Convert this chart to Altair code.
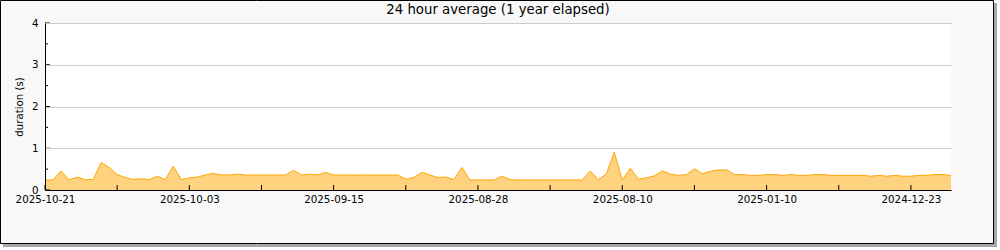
import altair as alt
import pandas as pd

# ---- data (one value per day, newest first) ----
durations = [
    0.24, 0.24, 0.455, 0.24, 0.31, 0.25, 0.25, 0.66, 0.54, 0.37,
    0.30, 0.25, 0.27, 0.25, 0.33, 0.25, 0.57, 0.25, 0.29, 0.31,
    0.36, 0.40, 0.36, 0.36, 0.38, 0.36, 0.36, 0.36, 0.36, 0.36,
    0.36, 0.47, 0.36, 0.38, 0.36, 0.42, 0.36,
    0.36, 0.36, 0.36, 0.36, 0.36, 0.36, 0.36, 0.36,
    0.26, 0.30, 0.42, 0.36, 0.30, 0.31, 0.25, 0.54, 0.24, 0.24,
    0.24, 0.24, 0.33, 0.25,
    0.24, 0.24, 0.24, 0.24, 0.24, 0.24, 0.24, 0.24, 0.24,
    0.455, 0.25, 0.38, 0.90, 0.24, 0.52, 0.26, 0.29, 0.34, 0.46,
    0.38, 0.35, 0.37, 0.51, 0.39, 0.45, 0.48, 0.48, 0.37, 0.37,
    0.35, 0.35, 0.37, 0.37, 0.35, 0.37, 0.35, 0.35, 0.37, 0.37,
    0.35, 0.35, 0.35, 0.35, 0.35, 0.33, 0.35, 0.33, 0.35, 0.33,
    0.33, 0.35, 0.35, 0.37, 0.37, 0.35,
]
tick_labels = ["2025-10-21", "2025-10-03", "2025-09-15", "2025-08-28",
               "2025-08-10", "2025-01-10", "2024-12-23"]
label_positions = [0, 18, 36, 54, 72, 90, 108]
x_tick_positions = [0, 9, 18, 27, 36, 45, 54, 63, 72, 81, 90, 99, 108]
y_major_ticks = [0, 1, 2, 3, 4]
y_minor_ticks = [0.5, 1.5, 2.5, 3.5]

W, H = 906, 167
N = len(durations)

df = pd.DataFrame({"idx": list(range(N)), "duration": durations})
one = pd.DataFrame({"a": [0]})

label_expr = "[" + ",".join("'%s'" % s for s in tick_labels) + "][datum.value / 18]"

xscale = alt.Scale(domain=[0, N - 1], nice=False, zero=False)
yscale = alt.Scale(domain=[0, 4], nice=False)

shadow = alt.Chart(one).mark_rect(fill="#a8a8a8").encode(
    x=alt.value(-42), x2=alt.value(952), y=alt.value(-20), y2=alt.value(224))
frame = alt.Chart(one).mark_rect(fill="#f8f8f8", stroke="#000000", strokeWidth=1).encode(
    x=alt.value(-44.5), x2=alt.value(948.5), y=alt.value(-22.5), y2=alt.value(220.5))
plotbg = alt.Chart(one).mark_rect(fill="#ffffff").encode(
    x=alt.value(0), x2=alt.value(W), y=alt.value(0), y2=alt.value(H))

area = alt.Chart(df).mark_area(
    color="#ffd27f", opacity=1, fillOpacity=1,
    line={"color": "#ffa500", "strokeWidth": 1}, interpolate="linear"
).encode(
    x=alt.X("idx:Q", scale=xscale,
            axis=alt.Axis(values=label_positions, labelExpr=label_expr, title=None,
                          grid=False, ticks=False, labelFlush=False, labelOverlap=False,
                          labelPadding=4, labelFont="DejaVu Sans", labelFontSize=10.3,
                          labelColor="#000000", domainColor="#000000", domainWidth=1,
                          zindex=1)),
    y=alt.Y("duration:Q", scale=yscale,
            axis=alt.Axis(values=y_major_ticks, title="duration (s)", grid=True,
                          gridColor="#cccccc", gridWidth=1, ticks=False,
                          labelPadding=7, labelFont="DejaVu Sans", labelFontSize=10.3,
                          labelColor="#000000", domainColor="#000000", domainWidth=1,
                          titleFont="DejaVu Sans", titleFontSize=10.2,
                          titleFontWeight="normal", titleColor="#000000",
                          titleX=-26, titleBaseline="middle", titlePadding=0,
                          zindex=1)),
)

xt = alt.Chart(pd.DataFrame({"t": x_tick_positions})).mark_rule(color="#000000").encode(
    x=alt.X("t:Q", scale=xscale), y=alt.value(H), y2=alt.value(H - 5))
ymaj = alt.Chart(pd.DataFrame({"t": y_major_ticks})).mark_rule(color="#000000").encode(
    y=alt.Y("t:Q", scale=yscale), x=alt.value(0), x2=alt.value(5))
ymin = alt.Chart(pd.DataFrame({"t": y_minor_ticks})).mark_rule(color="#000000").encode(
    y=alt.Y("t:Q", scale=yscale), x=alt.value(0), x2=alt.value(3))

chart = alt.layer(shadow, frame, plotbg, area, xt, ymaj, ymin).properties(
    width=W, height=H,
    title=alt.TitleParams("24 hour average (1 year elapsed)", font="DejaVu Sans",
                          fontSize=13.3, fontWeight="normal", color="#000000",
                          anchor="middle", frame="group", offset=-30.5,
                          baseline="bottom", zindex=1),
    autosize=alt.AutoSizeParams(type="none"),
    padding={"left": 45, "top": 23, "right": 49, "bottom": 60},
    background="#ffffff",
).configure_view(stroke=None)

chart.save("out.html", embed_options={"renderer": "svg", "actions": False})
